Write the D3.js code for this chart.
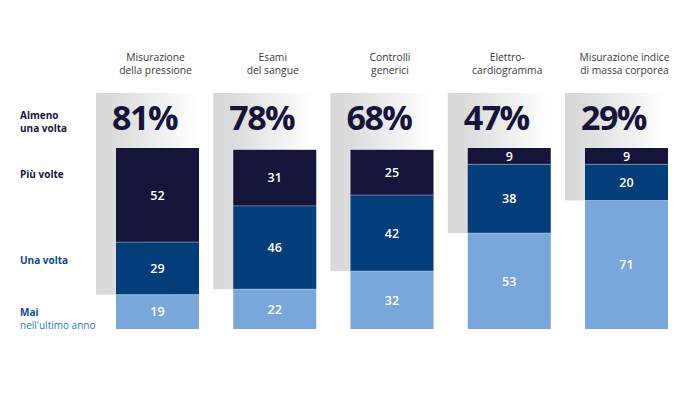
<!DOCTYPE html>
<html><head><meta charset="utf-8">
<script src="https://cdn.jsdelivr.net/npm/d3@7"></script>
<style>
html,body{margin:0;padding:0;background:#fff;}
svg{display:block;font-family:"Open Sans",sans-serif;}
</style></head>
<body><svg id="c" width="700" height="394"></svg>
<script>
const categories = [
  ["Misurazione","della pressione"],
  ["Esami","del sangue"],
  ["Controlli","generici"],
  ["Elettro-","cardiogramma"],
  ["Misurazione indice","di massa corporea"]
];
const atLeastOnce = [81,78,68,47,29];
const moreTimes = [52,31,25,9,9];
const once = [29,46,42,38,20];
const never = [19,22,32,53,71];
const rowLabels = ["Almeno|una volta","Più volte","Una volta","Mai|nell'ultimo anno"];

const colors = {dark:"#15143b", mid:"#033d7a", light:"#7aa7db"};
const svg = d3.select("#c");
const ids = categories.map((c,i)=>"c"+i);
const x = d3.scaleBand().domain(ids).range([116,668]).paddingInner(0.292).paddingOuter(0);
const y = d3.scaleLinear().domain([0,100]).range([329,148]);

const defs = svg.append("defs");
const g = defs.append("linearGradient").attr("id","pg").attr("x1","0").attr("x2","1").attr("y1","0").attr("y2","0");
g.append("stop").attr("offset","0").attr("stop-color","#d8d8d8");
g.append("stop").attr("offset","0.2").attr("stop-color","#dcdcdc");
g.append("stop").attr("offset","0.95").attr("stop-color","#ffffff");

// gray panels
svg.selectAll("rect.panel").data(ids).join("rect")
  .attr("x",d=>x(d)-20)
  .attr("y",93)
  .attr("width",x.bandwidth()+22)
  .attr("height",(d,i)=>y(never[i])-93)
  .attr("fill","url(#pg)");

// stacked segments
const segs = [];
ids.forEach((id,i)=>{
  segs.push({id,v:never[i],y0:0,y1:never[i],c:colors.light});
  segs.push({id,v:once[i],y0:never[i],y1:never[i]+once[i],c:colors.mid});
  segs.push({id,v:moreTimes[i],y0:never[i]+once[i],y1:never[i]+once[i]+moreTimes[i],c:colors.dark});
});
svg.selectAll("rect.seg").data(segs).join("rect")
  .attr("x",d=>x(d.id)).attr("width",x.bandwidth())
  .attr("y",d=>y(d.y1)).attr("height",d=>y(d.y0)-y(d.y1))
  .attr("fill",d=>d.c);
svg.selectAll("line.sep").data(segs.filter(d=>d.y0>0)).join("line")
  .attr("x1",d=>x(d.id)).attr("x2",d=>x(d.id)+x.bandwidth())
  .attr("y1",d=>y(d.y0)).attr("y2",d=>y(d.y0))
  .attr("stroke","#ffffff").attr("stroke-opacity",0.35).attr("stroke-width",1);

svg.selectAll("text.val").data(segs).join("text")
  .attr("x",d=>x(d.id)+x.bandwidth()/2)
  .attr("y",d=>(y(d.y0)+y(d.y1))/2)
  .attr("dy","0.36em")
  .attr("text-anchor","middle")
  .attr("fill","#fff").attr("font-size",12.5).attr("font-weight",600)
  .text(d=>d.v);

// big percentages
svg.selectAll("text.pct").data(ids).join("text")
  .attr("x",d=>x(d)-4).attr("y",130)
  .attr("fill","#15143b").attr("font-size",34).attr("font-weight",700)
  .attr("letter-spacing",-1.5)
  .text((d,i)=>atLeastOnce[i]+"%");

// headers
ids.forEach((id,i)=>{
  const cx = x(id)+x.bandwidth()/2-2;
  const t = svg.append("text").attr("text-anchor","middle")
    .attr("x",cx).attr("y",61)
    .attr("fill","#3a3a3a").attr("font-size",10.3);
  categories[i].forEach((l,k)=>t.append("tspan").attr("x",cx).attr("dy",k?13:0).text(l));
});

// row labels
const rl = [
  {lines:rowLabels[0].split("|"),y:119,c:"#15143b",w:[700,700]},
  {lines:rowLabels[1].split("|"),y:178,c:"#15143b",w:[700]},
  {lines:rowLabels[2].split("|"),y:264,c:"#0b4a8c",w:[700]},
  {lines:rowLabels[3].split("|"),y:316,c:"#0b4a8c",w:[700,400],c2:"#2f78c0"}
];
rl.forEach(r=>{
  const t = svg.append("text").attr("x",20).attr("y",r.y).attr("font-size",10);
  r.lines.forEach((l,k)=>t.append("tspan").attr("x",20).attr("dy",k?13:0)
    .attr("font-weight",r.w[k]).attr("fill",k&&r.c2?r.c2:r.c).text(l));
});
</script></body></html>
